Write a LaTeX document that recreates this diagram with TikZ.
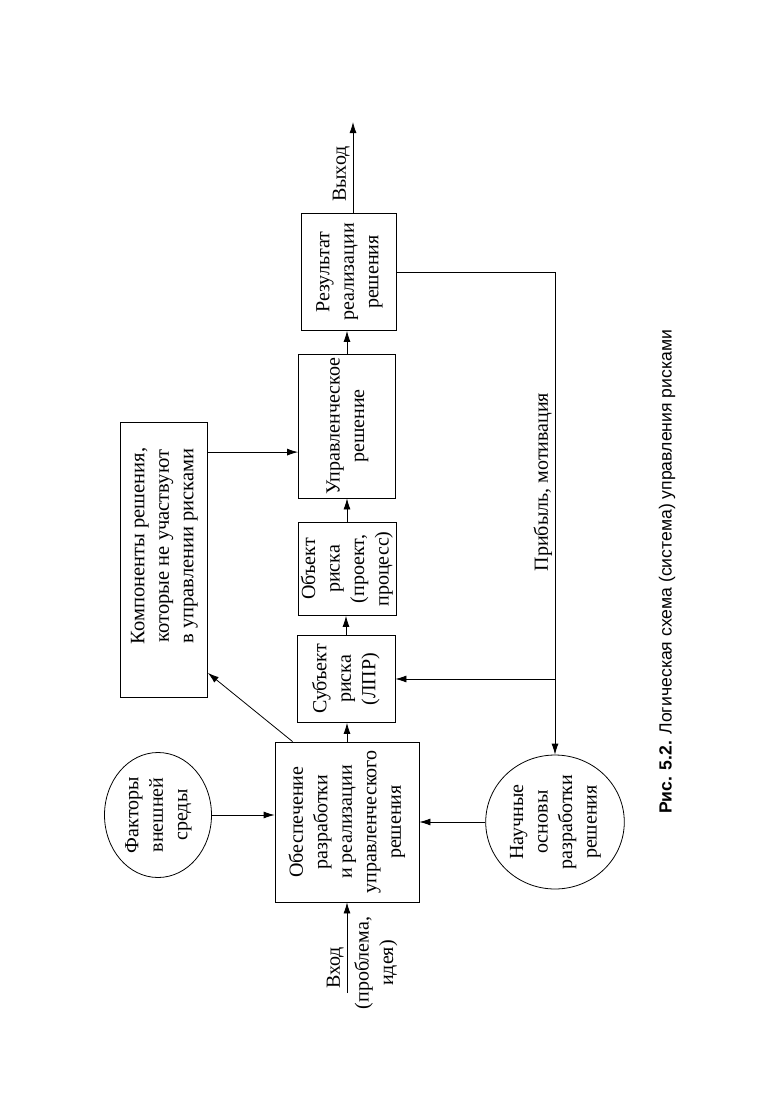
\documentclass[tikz,border=0pt]{standalone}
\usepackage{fontspec}
\usepackage{graphicx}
\setmainfont{Liberation Serif}
\newfontfamily\capfont{Liberation Sans}
\usetikzlibrary{shapes.geometric,arrows.meta}
\newcommand{\rottext}[1]{\rotatebox{90}{\begin{tabular}{@{}c@{}}#1\end{tabular}}}
\tikzset{
  boxfont/.style={font=\fontsize{20}{24.5}\selectfont},
  blk/.style={draw, line width=0.8pt, inner sep=0pt, boxfont},
  ell/.style={draw, ellipse, line width=0.8pt, inner sep=0pt, boxfont},
  lbl/.style={inner sep=0pt, boxfont},
  arr/.style={-{Latex[length=11pt,width=7pt]}, line width=0.8pt},
  ln/.style={line width=0.8pt}
}
\begin{document}
\begin{tikzpicture}[x=1pt,y=-1pt]
\useasboundingbox (0,0) rectangle (780,1100);
\fill[white] (0,0) rectangle (780,1100);

\node[blk, minimum width=144pt, minimum height=160pt] (main) at (347,822)
  {\rottext{Обеспечение\\разработки\\и реализации\\управленческого\\решения}};
\node[blk, minimum width=98pt, minimum height=87pt] (subj) at (346,679)
  {\rottext{Субъект\\риска\\(ЛПР)}};
\node[blk, minimum width=97pt, minimum height=93pt] (obj) at (347,569)
  {\rottext{Объект\\риска\\(проект,\\процесс)}};
\node[blk, minimum width=97pt, minimum height=144pt] (upr) at (347,426)
  {\rottext{Управленческое\\решение}};
\node[blk, minimum width=95pt, minimum height=117pt] (res) at (349,272)
  {\rottext{Результат\\реализации\\решения}};
\node[blk, minimum width=87pt, minimum height=275pt] (komp) at (164,560)
  {\rotatebox{90}{\hspace*{28pt}\fontsize{20.5}{24.5}\selectfont\begin{tabular}{@{}c@{}}Компоненты решения,\\которые не участвуют\\в управлении рисками\end{tabular}}};
\node[ell, minimum width=107pt, minimum height=125pt] (fak) at (158,815)
  {\rottext{Факторы\\внешней\\среды}};
\node[ell, minimum width=120pt, minimum height=130pt] (nau) at (555,822)
  {\rottext{Научные\\основы\\разработки\\решения}};

\node[lbl] (vyh) at (341,174) {\rottext{Выход}};
\node[lbl] (vh) at (335,968) {\rottext{Вход}};
\node[lbl] (vh2) at (376,963) {\rottext{(проблема,\\идея)}};
\node[lbl] (prib) at (543,482) {\rottext{Прибыль, мотивация}};
\node[inner sep=0pt, font=\capfont\fontsize{17.6}{22}\selectfont] (cap) at (667,572)
  {\rotatebox{90}{\textbf{Рис. 5.2.} Логическая схема (система) управления рисками}};

\coordinate (in) at (347,993);
\coordinate (out) at (353,122);
\coordinate (k1) at ([yshift=-30pt]komp.north east);
\coordinate (k2) at ([yshift=25pt]komp.south east);
\coordinate (m1) at ([xshift=18pt]main.north west);
\coordinate (br) at (nau.north |- subj.east);

\draw[arr] (in) -- (in |- main.south);
\draw[arr] (main.north) -- (main.north |- subj.south);
\draw[arr] (subj.north) -- (subj.north |- obj.south);
\draw[arr] (obj.north) -- (obj.north |- upr.south);
\draw[arr] (upr.north) -- (upr.north |- res.south);
\draw[arr] (out |- res.north) -- (out);
\draw[arr] (fak.east) -- (fak.east -| main.west);
\draw[arr] (nau.west) -- (nau.west -| main.east);
\draw[arr] (m1) -- (k2);
\draw[arr] (k1) -- (k1 -| upr.west);
\draw[arr] (res.east) -- (res.east -| nau.north) -- (nau.north);
\draw[arr] (br) -- (subj.east);
\end{tikzpicture}
\end{document}
